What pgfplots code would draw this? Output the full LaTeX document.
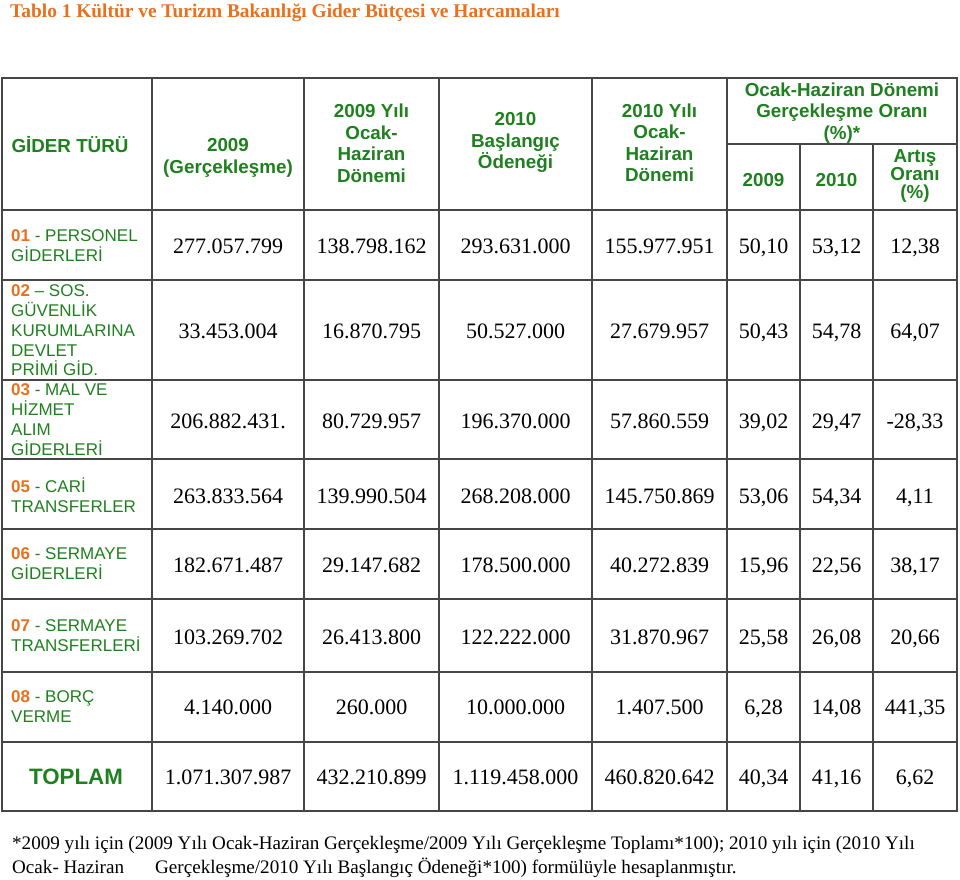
\documentclass[border=0pt]{standalone}
\usepackage{fontspec}
\setmainfont{Liberation Serif}
\newfontfamily\arial{Liberation Sans}
\usepackage{pgfplots}
\usepackage{pgfplotstable}
\pgfplotsset{compat=1.18}
\definecolor{hdrgreen}{RGB}{30,128,30}
\definecolor{codeorange}{RGB}{232,112,30}
\definecolor{gridgray}{RGB}{70,70,70}

\pgfplotstableread{
y c1 c2 c3 c4 c5 c6 c7
245.5 277.057.799 138.798.162 293.631.000 155.977.951 50,10 53,12 12,38
330.5 33.453.004 16.870.795 50.527.000 27.679.957 50,43 54,78 64,07
420.5 206.882.431. 80.729.957 196.370.000 57.860.559 39,02 29,47 -28,33
495.5 263.833.564 139.990.504 268.208.000 145.750.869 53,06 54,34 4,11
565 182.671.487 29.147.682 178.500.000 40.272.839 15,96 22,56 38,17
636.5 103.269.702 26.413.800 122.222.000 31.870.967 25,58 26,08 20,66
707 4.140.000 260.000 10.000.000 1.407.500 6,28 14,08 441,35
777 1.071.307.987 432.210.899 1.119.458.000 460.820.642 40,34 41,16 6,62
}\budget

\newcommand{\hdr}{\arial\bfseries\fontsize{18.8bp}{21.5bp}\selectfont}
\newcommand{\lbl}{\arial\fontsize{17bp}{19.8bp}\selectfont}
\newcommand{\code}[1]{{\bfseries\color{codeorange}#1}}

\begin{document}
\begin{tikzpicture}
\begin{axis}[
  width=960bp, height=880bp, scale only axis,
  xmin=0, xmax=960, ymin=0, ymax=880, y dir=reverse,
  hide axis, clip=false,
  every node near coord/.append style={anchor=base, inner sep=0pt, yshift=-7.5bp,
    font=\rmfamily\fontsize{22bp}{26bp}\selectfont, text=black},
]
\path (axis cs:0,0) rectangle (axis cs:960,880);

% numeric cells
\addplot[draw=none, nodes near coords, point meta=explicit symbolic] table[x expr=228, y=y, meta=c1] {\budget};
\addplot[draw=none, nodes near coords, point meta=explicit symbolic] table[x expr=371.5, y=y, meta=c2] {\budget};
\addplot[draw=none, nodes near coords, point meta=explicit symbolic] table[x expr=515.5, y=y, meta=c3] {\budget};
\addplot[draw=none, nodes near coords, point meta=explicit symbolic] table[x expr=659.5, y=y, meta=c4] {\budget};
\addplot[draw=none, nodes near coords, point meta=explicit symbolic] table[x expr=763.5, y=y, meta=c5] {\budget};
\addplot[draw=none, nodes near coords, point meta=explicit symbolic] table[x expr=836.5, y=y, meta=c6] {\budget};
\addplot[draw=none, nodes near coords, point meta=explicit symbolic] table[x expr=915, y=y, meta=c7] {\budget};

% grid
\draw[gridgray, line width=1.4bp] (axis cs:2,78) rectangle (axis cs:957,811);
\draw[gridgray, line width=1.4bp] (axis cs:2,210) -- (axis cs:957,210);
\draw[gridgray, line width=1.4bp] (axis cs:2,280) -- (axis cs:957,280);
\draw[gridgray, line width=1.4bp] (axis cs:2,380) -- (axis cs:957,380);
\draw[gridgray, line width=1.4bp] (axis cs:2,459) -- (axis cs:957,459);
\draw[gridgray, line width=1.4bp] (axis cs:2,529) -- (axis cs:957,529);
\draw[gridgray, line width=1.4bp] (axis cs:2,599) -- (axis cs:957,599);
\draw[gridgray, line width=1.4bp] (axis cs:2,672) -- (axis cs:957,672);
\draw[gridgray, line width=1.4bp] (axis cs:2,742) -- (axis cs:957,742);
\draw[gridgray, line width=1.4bp] (axis cs:727,144) -- (axis cs:957,144);
\draw[gridgray, line width=1.4bp] (axis cs:152,78) -- (axis cs:152,811);
\draw[gridgray, line width=1.4bp] (axis cs:304,78) -- (axis cs:304,811);
\draw[gridgray, line width=1.4bp] (axis cs:439,78) -- (axis cs:439,811);
\draw[gridgray, line width=1.4bp] (axis cs:592,78) -- (axis cs:592,811);
\draw[gridgray, line width=1.4bp] (axis cs:727,78) -- (axis cs:727,811);
\draw[gridgray, line width=1.4bp] (axis cs:800,144) -- (axis cs:800,811);
\draw[gridgray, line width=1.4bp] (axis cs:873,144) -- (axis cs:873,811);

% title
\node[anchor=west, inner sep=0pt, text=codeorange, font=\rmfamily\bfseries\fontsize{19.4bp}{23bp}\selectfont]
  at (axis cs:10,13) {Tablo 1 Kültür ve Turizm Bakanlığı Gider Bütçesi ve Harcamaları};

% header
\begin{scope}[every node/.style={align=center, inner sep=0pt, text=hdrgreen, font=\hdr}]
\node at (axis cs:70,145) {GİDER TÜRÜ};
\node at (axis cs:228,158) {2009\\(Gerçekleşme)};
\node at (axis cs:371.5,143.5) {2009 Yılı\\Ocak-\\Haziran\\Dönemi};
\node at (axis cs:515.5,142.5) {2010\\Başlangıç\\Ödeneği};
\node at (axis cs:659.5,143) {2010 Yılı\\Ocak-\\Haziran\\Dönemi};
\node at (axis cs:842,113) {Ocak-Haziran Dönemi\\Gerçekleşme Oranı\\(\%)*};
\node at (axis cs:763.5,180) {2009};
\node at (axis cs:836.5,180) {2010};
\node[font=\arial\bfseries\fontsize{18.8bp}{18.2bp}\selectfont] at (axis cs:915,176) {Artış\\Oranı\\(\%)};
\end{scope}

% row labels
\begin{scope}[every node/.style={anchor=west, align=left, inner sep=0pt, text=hdrgreen, font=\lbl}]
\node at (axis cs:11,245.5) {\code{01} - PERSONEL\\GİDERLERİ};
\node at (axis cs:11,330.5) {\code{02} – SOS.\\GÜVENLİK\\KURUMLARINA\\DEVLET\\PRİMİ GİD.};
\node at (axis cs:11,419.5) {\code{03} - MAL VE\\HİZMET\\ALIM\\GİDERLERİ};
\node at (axis cs:11,495) {\code{05} - CARİ\\TRANSFERLER};
\node at (axis cs:11,564) {\code{06} - SERMAYE\\GİDERLERİ};
\node at (axis cs:11,636) {\code{07} - SERMAYE\\TRANSFERLERİ};
\node at (axis cs:11,706.5) {\code{08} - BORÇ\\VERME};
\end{scope}
\node[inner sep=0pt, text=hdrgreen, font=\arial\bfseries\fontsize{22.3bp}{26bp}\selectfont] at (axis cs:76,777) {TOPLAM};

% footnote
\begin{scope}[every node/.style={anchor=base west, inner sep=0pt, text=black, font=\rmfamily\fontsize{19.1bp}{22bp}\selectfont}]
\node at (axis cs:12,849) {*2009 yılı için (2009 Yılı Ocak-Haziran Gerçekleşme/2009 Yılı Gerçekleşme Toplamı*100); 2010 yılı için (2010 Yılı};
\node at (axis cs:12,873) {Ocak- Haziran};
\node at (axis cs:155,873) {Gerçekleşme/2010 Yılı Başlangıç Ödeneği*100) formülüyle hesaplanmıştır.};
\end{scope}
\end{axis}
\end{tikzpicture}
\end{document}
